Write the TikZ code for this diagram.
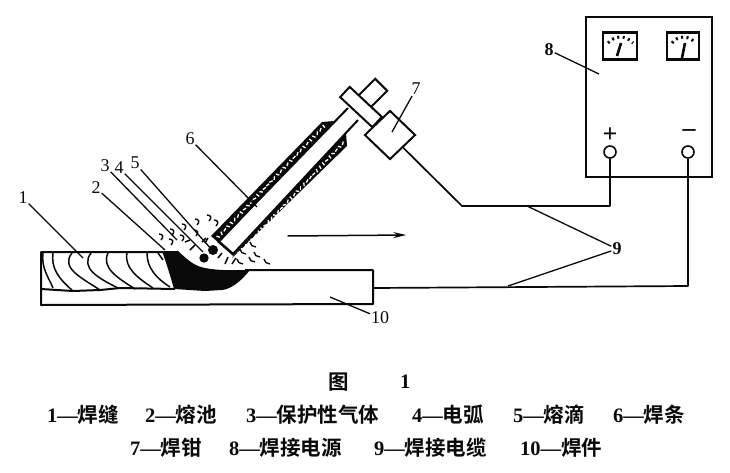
\documentclass[tikz,border=0pt]{standalone}
\usepackage{fontspec}
\setmainfont{Liberation Serif}
\newfontfamily\cjk{Noto Sans CJK SC}[BoldFont={* Bold}]
\usetikzlibrary{arrows.meta, positioning, calc, shapes.geometric}
\definecolor{cInk}{HTML}{0A0A0A}
\newcommand{\cn}[1]{{\cjk\bfseries #1}}

\begin{document}
\begin{tikzpicture}[
  x=1pt, y=-1pt,
  ink/.style={draw=cInk, line width=2pt, line join=round},
  thin ink/.style={draw=cInk, line width=1.5pt},
  lead/.style={draw=cInk, line width=1.3pt},
  lbl/.style={font=\fontsize{18}{18}\selectfont, text=cInk, inner sep=1pt},
  capt/.style={font=\fontsize{20.5}{20.5}\selectfont\bfseries, text=cInk, anchor=west, inner sep=0pt},
  wire/.style={draw=cInk, line width=1.7pt, line join=round},
  speck/.style={draw=white, line width=1.3pt},
  gasl/.style={draw=cInk, line width=1.4pt},
  meter/.style={draw=cInk, line width=2.6pt, fill=white, minimum width=32pt, minimum height=27pt, inner sep=0pt},
  term/.style={circle, draw=cInk, line width=1.6pt, fill=white, minimum size=12pt, inner sep=0pt},
  dial/.style={draw=cInk, line width=3pt, dash pattern=on 2pt off 3.5pt},
  arr/.style={-{Stealth[length=13pt, width=6pt]}, draw=cInk, line width=1.5pt}
]
\useasboundingbox[fill=white] (0,0) rectangle (730,472);

% WORKPIECE
\fill[cInk] (162,251) -- (178,251) .. controls (186,258) and (193,266) .. (205,268)
  .. controls (220,271) and (235,270) .. (250,270)
  .. controls (242,280) and (232,289) .. (222,290) -- (205,291) -- (174,289)
  .. controls (171,278) and (166,262) .. (162,251) -- cycle;
\draw[ink] (165,252) -- (41,252) -- (41,305) -- (373,304) -- (373,270) -- (245,270);
\draw[ink] (41,289) -- (73,291) -- (100,290) -- (120,288) -- (175,289);
\foreach \xa/\xb/\xc/\xd/\xe in {
  43/41/49/53/288, 53/51/58/73/291, 72/60/82/100/290, 91/80/98/118/288,
  108/101/118/135/289, 127/124/138/153/288, 147/147/156/170/287}{
  \draw[thin ink] (\xa,253) .. controls (\xb,268) and (\xc,278) .. (\xd,\xe);
}
\draw[thin ink] (158,253) -- (163,260);

% ELECTRODE
\fill[cInk] (211,236) -- (322,122) -- (334,121) -- (219,243) -- cycle;
\fill[cInk] (237,251) -- (346,133) -- (347,146) -- (232,258) -- cycle;
\coordinate (coatA) at (216,239);
\coordinate (coatB) at (326,124);
\coordinate (coatC) at (237,255);
\coordinate (coatD) at (345,141);
\pgfmathsetseed{11}
\foreach \t in {0.02,0.05,...,0.98}{
  \pgfmathsetmacro\ang{random(0,180)}
  \draw[speck] ($(coatA)!\t!(coatB)$) ++(\ang:1.8) -- ++(\ang+180:3.6);
  \pgfmathsetmacro\ang{random(0,180)}
  \draw[speck] ($(coatC)!\t!(coatD)$) ++(\ang:1.8) -- ++(\ang+180:3.6);
}
\draw[ink] (218,242) -- (348,108);
\draw[ink] (233,254) -- (358,120);
\draw[draw=cInk, line width=2.6pt] (218,241) -- (234,255);

% HOLDER
\node[draw=cInk, line width=2pt, fill=white, rotate=-45, minimum width=17pt, minimum height=26pt, inner sep=0pt] (stub) at (372,94) {};
\node[draw=cInk, line width=2pt, fill=white, rotate=-43, minimum width=44pt, minimum height=14pt, inner sep=0pt] (clamp) at (361,107) {};
\node[diamond, draw=cInk, line width=2pt, fill=white, minimum width=51pt, minimum height=49pt, inner sep=0pt] (handle) at (390,135) {};

% ARC AND GAS
\fill[cInk] (204,258) circle (4.7);
\fill[cInk] (213,250) circle (5);
\foreach \xa/\ya/\xb/\yb in {
  190/250/195/245, 185/242/190/240, 205/243/208/238, 202/242/206/238,
  218/258/222/253, 225/264/228/257, 232/264/236/258}{
  \draw[thin ink] (\xa,\ya) -- (\xb,\yb);
}
\foreach \xa/\ya in {
  162/237, 172/242, 173/232, 185/227, 183/238, 197/233, 198/222, 210/218, 217/223}{
  \draw[gasl] (\xa-3,\ya-3) .. controls (\xa+1,\ya-3) and (\xa+2,\ya) .. (\xa-1,\ya+3);
}
\foreach \xa/\ya in {
  240/262, 252/260, 267/262, 243/252, 257/255, 253/245}{
  \draw[gasl] (\xa-3,\ya-3) .. controls (\xa-3,\ya) and (\xa,\ya+2) .. (\xa+3,\ya+2);
}
\node[inner sep=0pt] (dirA) at (287,236) {};
\node[inner sep=0pt] (dirB) at (407,235) {};
\draw[arr] (dirA) -- (dirB);

% POWER SOURCE
\node[draw=cInk, line width=2.4pt, minimum width=126pt, minimum height=160pt, inner sep=0pt] (power) at (649,97) {};
\node[meter, minimum width=34pt] (meterA) at (620,46) {};
\node[meter] (meterB) at (683,46) {};
\draw[dial] (608,43) .. controls (615,35) and (626,35) .. (633,43);
\draw[dial] (672,43) .. controls (678,35) and (689,35) .. (695,43);
\draw[draw=cInk, line width=2.6pt] (621,43) -- (617,56);
\draw[draw=cInk, line width=2.6pt] (685,43) -- (682,58);
\node[term] (tplus) at (610,152) {};
\node[term] (tminus) at (688,152) {};
\node[lbl, font=\fontsize{26}{26}\selectfont\bfseries] (plus) at (610,135) {+};
\node[lbl, font=\fontsize{26}{26}\selectfont\bfseries] (minus) at (689,133) {–};

% WIRES
\coordinate (knee1) at (462,206);
\coordinate (knee2) at (610,206);
\coordinate (knee3) at (688,286);
\coordinate (plateR) at (373,288);
\draw[wire] (handle.south east) -- (knee1) -- (knee2) -- (tplus.south);
\draw[wire] (plateR) -- (knee3) -- (tminus.south);

% LABELS
\node[lbl] (l1) at (23,198) {1};
\node[lbl] (l2) at (96,188) {2};
\node[lbl] (l3) at (105,166) {3};
\node[lbl] (l4) at (119,168) {4};
\node[lbl] (l5) at (135,163) {5};
\node[lbl] (l6) at (190,139) {6};
\node[lbl] (l7) at (416,89) {7};
\node[lbl, font=\fontsize{18}{18}\selectfont\bfseries] (l8) at (549,50) {8};
\node[lbl, font=\fontsize{18}{18}\selectfont\bfseries] (l9) at (617,249) {9};
\node[lbl] (l10) at (380,318) {10};
\coordinate (e1) at (83,258);
\coordinate (e2) at (165,250);
\coordinate (e3) at (177,240);
\coordinate (e4) at (203,252);
\coordinate (e5) at (212,250);
\coordinate (e6) at (257,207);
\coordinate (e7) at (392,132);
\coordinate (e8) at (599,74);
\coordinate (e9a) at (527,206);
\coordinate (e9b) at (508,286);
\coordinate (e10) at (330,297);
\draw[lead] (l1) -- (e1);
\draw[lead] (l2) -- (e2);
\draw[lead] (l3) -- (e3);
\draw[lead] (l4) -- (e4);
\draw[lead] (l5) -- (e5);
\draw[lead] (l6) -- (e6);
\draw[lead] (l7) -- (e7);
\draw[lead] (l8) -- (e8);
\draw[lead] (l9) -- (e9a);
\draw[lead] (l9) -- (e9b);
\draw[lead] (l10) -- (e10);

% CAPTION
\node[capt] (title) at (328,382) {\cn{图}};
\node[capt] (titleno) at (400,382) {1};
\node[capt] (c1) at (47,415) {1—\cn{焊缝}};
\node[capt] (c2) at (145,415) {2—\cn{熔池}};
\node[capt] (c3) at (246,415) {3—\cn{保护性气体}};
\node[capt] (c4) at (412,415) {4—\cn{电弧}};
\node[capt] (c5) at (513,415) {5—\cn{熔滴}};
\node[capt] (c6) at (613,415) {6—\cn{焊条}};
\node[capt] (c7) at (130,448) {7—\cn{焊钳}};
\node[capt] (c8) at (229,448) {8—\cn{焊接电源}};
\node[capt] (c9) at (374,448) {9—\cn{焊接电缆}};
\node[capt] (c10) at (520,448) {10—\cn{焊件}};

\end{tikzpicture}
\end{document}
